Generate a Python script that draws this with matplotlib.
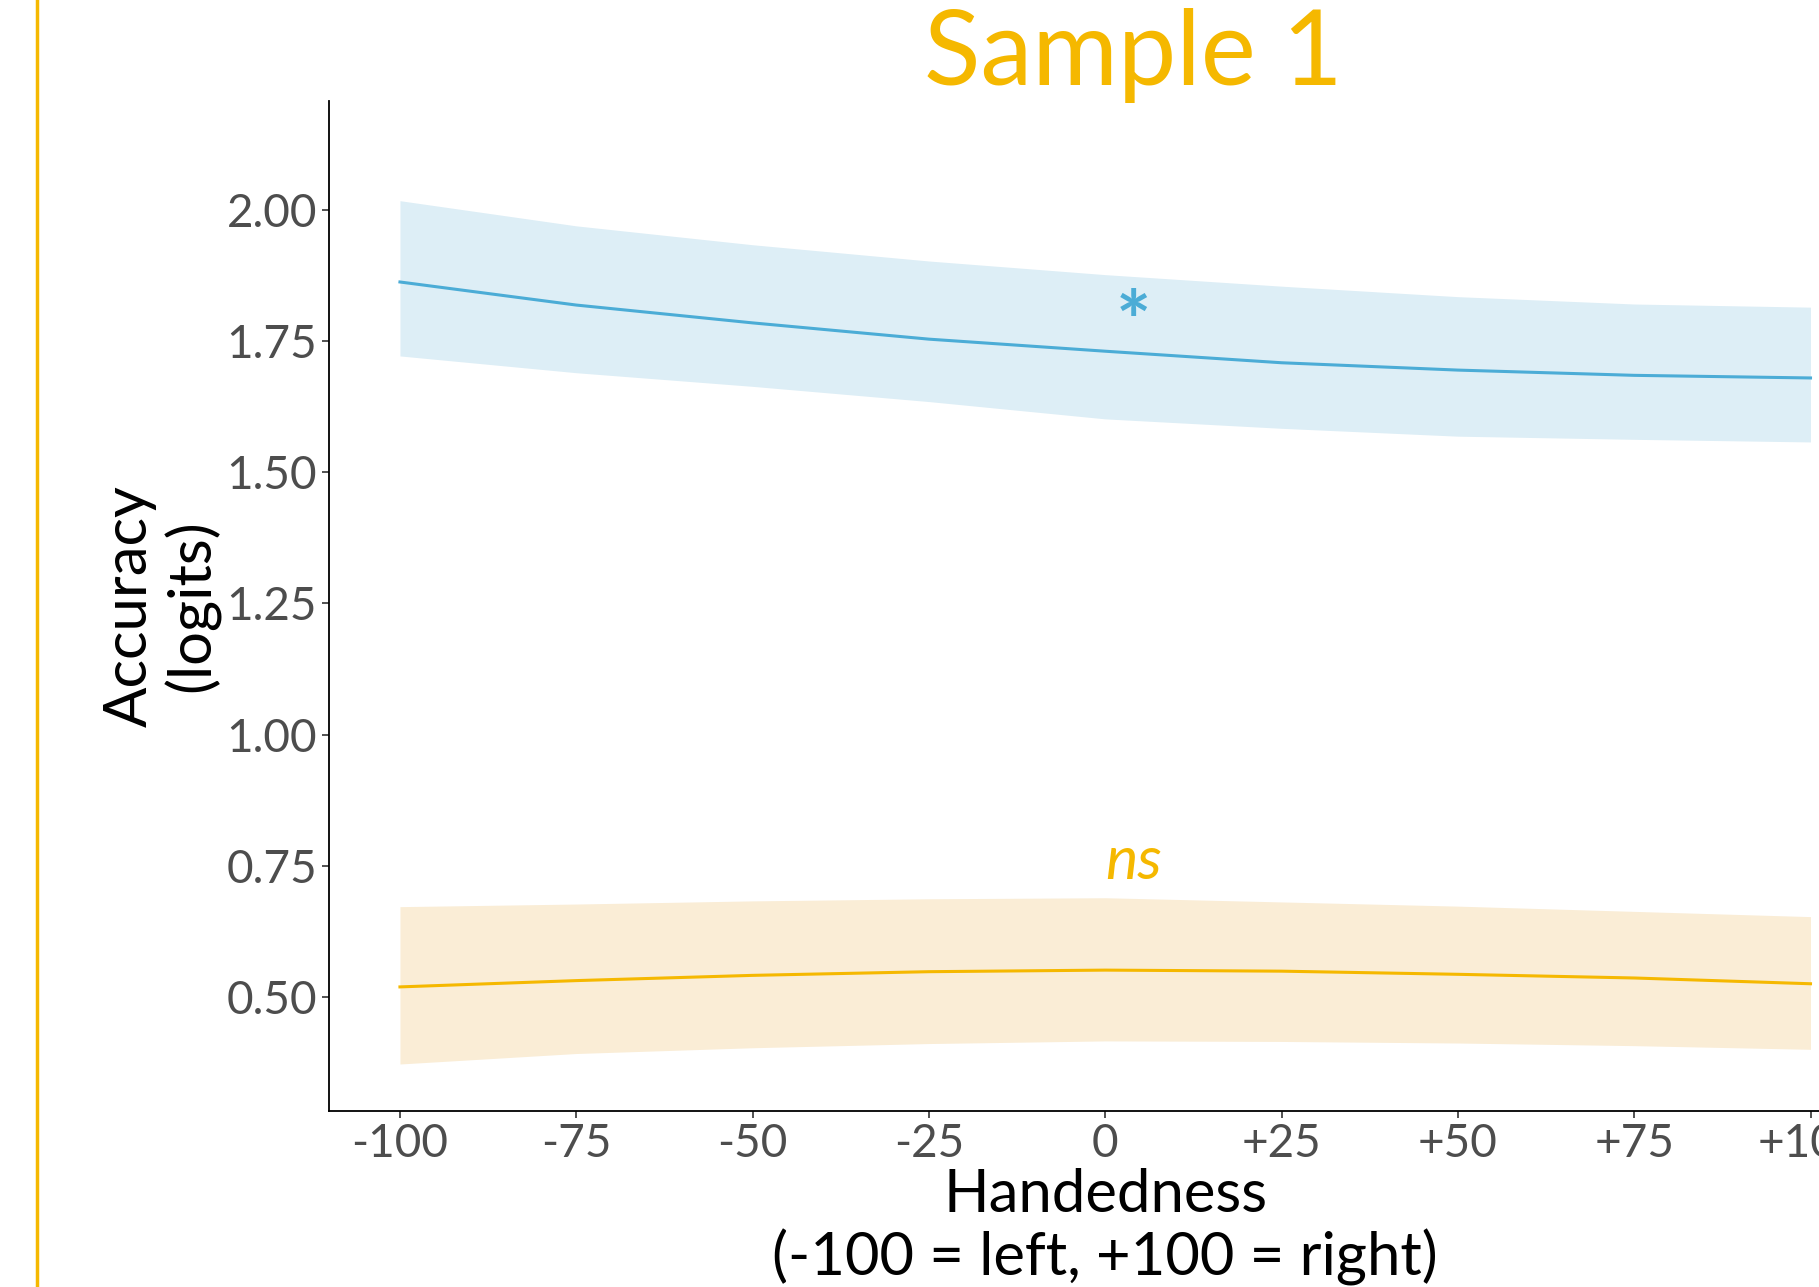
import matplotlib
matplotlib.use("Agg")
import matplotlib.pyplot as plt
from matplotlib.lines import Line2D

plt.rcParams['font.family'] = ['Lato', 'DejaVu Sans']

# ---- data ----
handedness = [-100, -75, -50, -25, 0, 25, 50, 75, 100]

blue_fit = [1.863, 1.819, 1.785, 1.754, 1.731, 1.709, 1.695, 1.685, 1.680]
blue_hi = [2.018, 1.970, 1.934, 1.903, 1.877, 1.855, 1.835, 1.821, 1.815]
blue_lo = [1.722, 1.690, 1.664, 1.635, 1.602, 1.584, 1.569, 1.563, 1.558]

yellow_fit = [0.519, 0.531, 0.541, 0.548, 0.551, 0.549, 0.543, 0.536, 0.525]
yellow_hi = [0.672, 0.677, 0.683, 0.687, 0.689, 0.681, 0.673, 0.663, 0.653]
yellow_lo = [0.372, 0.392, 0.403, 0.411, 0.416, 0.415, 0.412, 0.407, 0.400]

x_ticks = [-100, -75, -50, -25, 0, 25, 50, 75, 100]
x_ticklabels = ['-100', '-75', '-50', '-25', '0', '+25', '+50', '+75', '+100']
y_ticks = [0.50, 0.75, 1.00, 1.25, 1.50, 1.75, 2.00]
y_ticklabels = ['0.50', '0.75', '1.00', '1.25', '1.50', '1.75', '2.00']

title = 'Sample 1'
blue_sig = '*'
yellow_sig = 'ns'

BLUE = '#4BACD6'
BLUE_BAND = '#DDEEF6'
YELLOW = '#F5B800'
YELLOW_BAND = '#FAEDD6'
TICK_GREY = '#4D4D4D'

fig = plt.figure(figsize=(18.19, 12.87), dpi=100)
ax = fig.add_axes([0.1811, 0.137, 0.853, 0.7845])

ax.fill_between(handedness, blue_lo, blue_hi, color=BLUE_BAND, lw=0)
ax.plot(handedness, blue_fit, color=BLUE, lw=2.2)
ax.fill_between(handedness, yellow_lo, yellow_hi, color=YELLOW_BAND, lw=0)
ax.plot(handedness, yellow_fit, color=YELLOW, lw=2.2)

ax.text(4, 1.777, blue_sig, color=BLUE, fontsize=60, fontweight='bold',
        ha='center', va='center')
ax.text(4, 0.757, yellow_sig, color=YELLOW, fontsize=44, fontstyle='italic',
        ha='center', va='center')

ax.set_xlim(-110, 110)
ax.set_ylim(0.283, 2.208)
ax.set_xticks(x_ticks)
ax.set_xticklabels(x_ticklabels)
ax.set_yticks(y_ticks)
ax.set_yticklabels(y_ticklabels)
ax.tick_params(axis='both', labelsize=33, labelcolor=TICK_GREY, color='#333333',
               length=5, width=1.2, pad=4)

for s in ['top', 'right']:
    ax.spines[s].set_visible(False)
for s in ['left', 'bottom']:
    ax.spines[s].set_linewidth(1.3)
    ax.spines[s].set_color('black')

ax.set_xlabel('Handedness\n(-100 = left, +100 = right)', fontsize=43,
              linespacing=1.15, labelpad=2)
ax.set_ylabel('Accuracy\n(logits)', fontsize=43,
              linespacing=1.15, labelpad=4)

fig.text(0.623, 0.957, title, color=YELLOW, fontsize=75,
         ha='center', va='center')

fig.add_artist(Line2D([0.0204, 0.0204], [0, 1], color=YELLOW, lw=2.5,
                      transform=fig.transFigure))

fig.savefig('out.png', dpi=100)
